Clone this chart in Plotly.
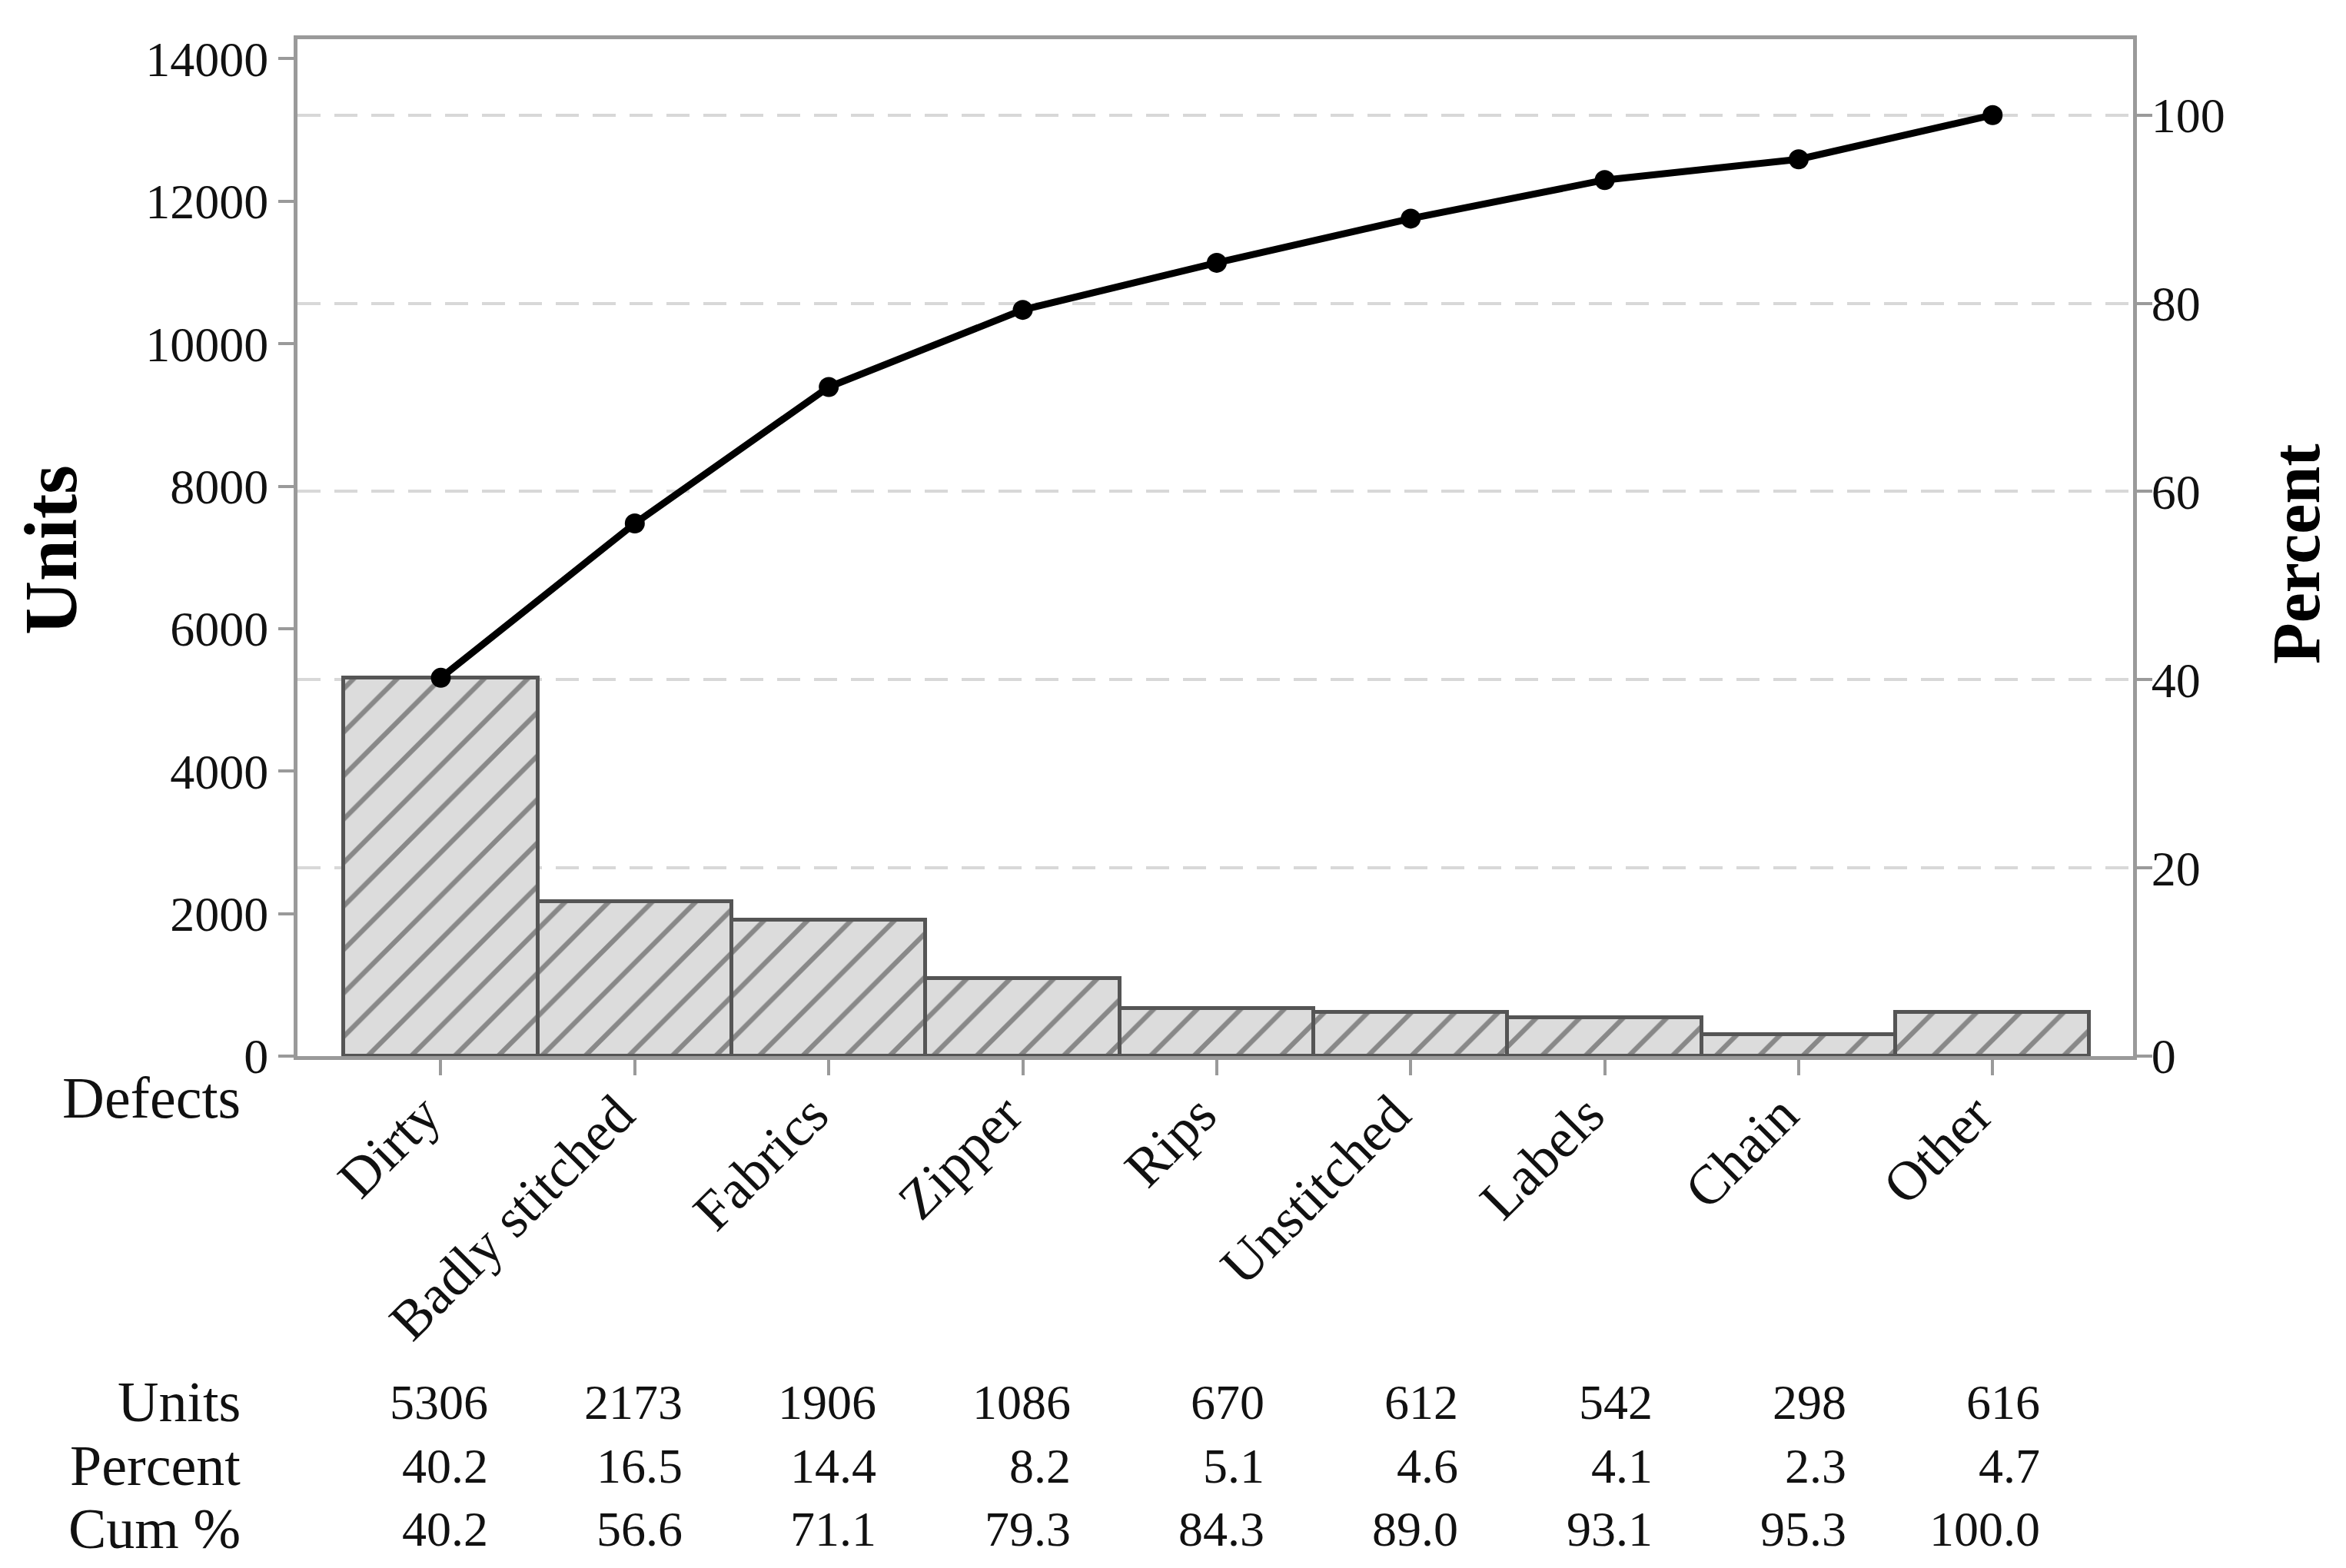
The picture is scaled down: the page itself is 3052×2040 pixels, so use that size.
import plotly.graph_objects as go

categories = ["Dirty", "Badly stitched", "Fabrics", "Zipper", "Rips",
              "Unstitched", "Labels", "Chain", "Other"]
units = [5306, 2173, 1906, 1086, 670, 612, 542, 298, 616]
percent = [40.2, 16.5, 14.4, 8.2, 5.1, 4.6, 4.1, 2.3, 4.7]
cum_percent = [40.2, 56.6, 71.1, 79.3, 84.3, 89.0, 93.1, 95.3, 100.0]
units_ticks = [0, 2000, 4000, 6000, 8000, 10000, 12000, 14000]
percent_ticks = [0, 20, 40, 60, 80, 100]
row_labels = ["Units", "Percent", "Cum %"]

W, H = 3052, 2040
L, R, T, B = 379, 285, 43, 674
PW, PH = W - L - R, H - T - B

def px_x(x):
    return (x - L) / PW

def px_y(y):
    return (H - B - y) / PH

FONT = "Liberation Serif"
AX = "#9a9a9a"
total = sum(units)
ytop = 14274
x_pos = list(range(len(categories)))

fig = go.Figure()
fig.add_trace(go.Bar(
    x=x_pos, y=units, width=1,
    marker=dict(color="#dcdcdc", line=dict(color="#555555", width=5),
                pattern=dict(shape="/", fgcolor="#333333", size=40,
                             solidity=0.16, fillmode="overlay")),
    yaxis="y", showlegend=False,
))
fig.add_trace(go.Scatter(
    x=x_pos, y=cum_percent, mode="lines+markers",
    line=dict(color="black", width=9),
    marker=dict(color="black", size=26),
    yaxis="y2", showlegend=False,
))

tickfont = dict(family=FONT, size=64, color="#111111")
fig.update_layout(
    width=W, height=H,
    margin=dict(l=L, r=R, t=T, b=B),
    paper_bgcolor="white", plot_bgcolor="white",
    bargap=0,
    xaxis=dict(range=[-0.739, 8.724], tickvals=x_pos, ticktext=categories,
               tickangle=-45, tickfont=dict(family=FONT, size=72, color="#111111"),
               ticklabelstandoff=-20, ticklabelshift=-22,
               showline=True, linecolor=AX, linewidth=5, mirror=True,
               ticks="outside", ticklen=20, tickwidth=4, tickcolor=AX,
               showgrid=False, zeroline=False),
    yaxis=dict(range=[0, ytop], tickvals=units_ticks, tickformat="d",
               tickfont=tickfont,
               showline=True, linecolor=AX, linewidth=5,
               ticks="outside", ticklen=20, tickwidth=4, tickcolor=AX,
               showgrid=False, zeroline=False),
    yaxis2=dict(range=[0, ytop / total * 100], tickvals=percent_ticks,
                tickfont=tickfont, overlaying="y", side="right",
                ticklabelstandoff=-14,
                showline=True, linecolor=AX, linewidth=5,
                ticks="outside", ticklen=20, tickwidth=4, tickcolor=AX,
                showgrid=True, gridcolor="#d8d8d8", gridwidth=4,
                griddash="30px,18px", zeroline=False),
)

ann = []
ann.append(dict(text="<b>Units</b>", x=px_x(58), y=px_y(708), xref="paper", yref="paper",
                textangle=-90, showarrow=False, xanchor="center", yanchor="middle",
                font=dict(family=FONT, size=97, color="black")))
ann.append(dict(text="<b>Percent</b>", x=px_x(2979), y=px_y(712), xref="paper", yref="paper",
                textangle=-90, showarrow=False, xanchor="center", yanchor="middle",
                font=dict(family=FONT, size=88, color="black")))
ann.append(dict(text="Defects", x=px_x(307), y=px_y(1420), xref="paper", yref="paper",
                showarrow=False, xanchor="right", yanchor="middle",
                font=dict(family=FONT, size=76, color="#111111")))

row_y = [1816, 1899, 1981]
rows = [[str(v) for v in units], [f"{v:.1f}" for v in percent], [f"{v:.1f}" for v in cum_percent]]
for lab, yy, vals in zip(row_labels, row_y, rows):
    ann.append(dict(text=lab, x=px_x(307), y=px_y(yy), xref="paper", yref="paper",
                    showarrow=False, xanchor="right", yanchor="middle",
                    font=dict(family=FONT, size=74, color="#111111")))
    for i, v in enumerate(vals):
        ann.append(dict(text=v, x=i, xshift=64, y=px_y(yy), xref="x", yref="paper",
                        showarrow=False, xanchor="right", yanchor="middle",
                        font=dict(family=FONT, size=64, color="#111111")))
fig.update_layout(annotations=ann)

fig.write_html("out.html")
